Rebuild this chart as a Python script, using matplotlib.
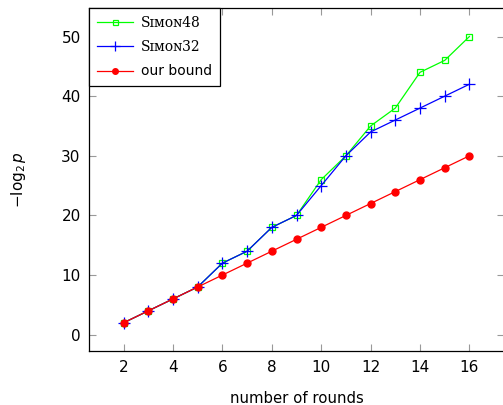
import numpy as np
import matplotlib.pyplot as plt

rounds = [2, 3, 4, 5, 6, 7, 8, 9, 10, 11, 12, 13, 14, 15, 16]
simon48 = [2, 4, 6, 8, 12, 14, 18, 20, 26, 30, 35, 38, 44, 46, 50]
simon32 = [2, 4, 6, 8, 12, 14, 18, 20, 25, 30, 34, 36, 38, 40, 42]
our_bound = [2, 4, 6, 8, 10, 12, 14, 16, 18, 20, 22, 24, 26, 28, 30]

plt.rcParams['font.family'] = 'DejaVu Sans'

fig = plt.figure(figsize=(5.03, 4.05), dpi=100)
ax = fig.add_axes([89 / 503, 53.6 / 405, 415 / 503, 343.5 / 405])

ax.plot(rounds, simon48, color='#00ff00', lw=0.9, marker='s', ms=4.5,
        mfc='none', mec='#00ff00', mew=0.9, label='S\u026a\u1d0d\u1d0f\u027448')
ax.plot(rounds, simon32, color='blue', lw=0.9, marker='+', ms=9,
        mew=0.9, label='S\u026a\u1d0d\u1d0f\u027432')
ax.plot(rounds, our_bound, color='red', lw=0.9, marker='o', ms=5,
        mec='red', label='our bound')

ax.set_xlim(0.6, 17.4)
ax.set_ylim(-2.8, 54.8)
ax.set_xticks(range(2, 17, 2))
ax.set_yticks(range(0, 51, 10))
ax.tick_params(direction='in', top=True, right=True, length=5, width=0.8,
               color='#999999', labelsize=11, pad=6)
for s in ax.spines.values():
    s.set_linewidth(0.9)

ax.set_xlabel('number of rounds', fontsize=10.7, labelpad=12)
ax.set_ylabel(r'$-\log_2 p$', fontsize=11, labelpad=24)

leg = ax.legend(loc='upper left', fontsize=10, frameon=True, fancybox=False,
                edgecolor='black', framealpha=1, borderaxespad=0,
                handlelength=2.6, handletextpad=0.6, borderpad=0.55,
                labelspacing=0.75, markerscale=0.8)
leg.get_frame().set_linewidth(0.9)
for t in leg.get_texts()[:2]:
    t.set_family('DejaVu Serif')

fig.savefig('out.png', dpi=100)
